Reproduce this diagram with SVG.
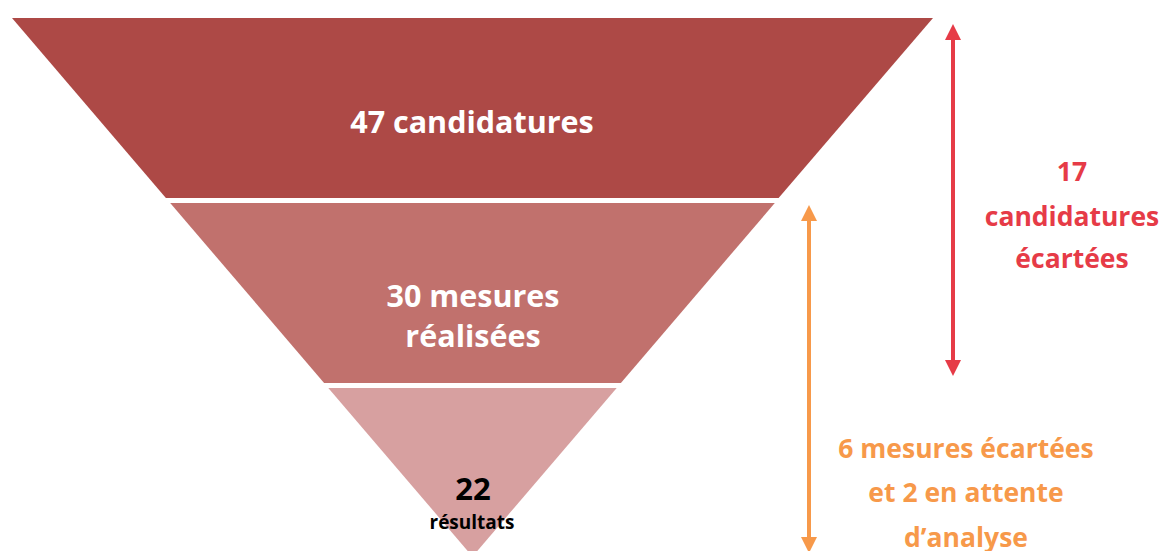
<svg xmlns="http://www.w3.org/2000/svg" width="1161" height="551" viewBox="0 0 1161 551">
<style>
text{font-family:"Open Sans","Liberation Sans",sans-serif;font-weight:bold;text-anchor:middle}
.w{fill:#ffffff;font-size:30.5px}
.r{fill:#E63B47;font-size:26.5px}
.o{fill:#F7994A;font-size:26.5px}
</style>
<defs>
<marker id="ar" markerWidth="4" markerHeight="4" refX="2" refY="2" orient="auto-start-reverse" markerUnits="strokeWidth"><path d="M0,0 L4,2 L0,4 Z" fill="#E63B47"/></marker>
<marker id="ao" markerWidth="4" markerHeight="4" refX="2" refY="2" orient="auto-start-reverse" markerUnits="strokeWidth"><path d="M0,0 L4,2 L0,4 Z" fill="#F7994A"/></marker>
</defs>
<rect width="1161" height="551" fill="#ffffff"/>
<g id="stage1">
<polygon points="12,18 933,18 778.6,198 165.9,198" fill="#AD4946"/>
<text class="w" x="472" y="133">47 candidatures</text>
</g>
<g id="stage2">
<polygon points="170.2,203 774.8,203 620.9,383 324.1,383" fill="#C1716D"/>
<text class="w" x="473" y="307">30 mesures</text>
<text class="w" x="473" y="347">réalisées</text>
</g>
<g id="stage3">
<polygon points="328.3,388 616.7,388 472.5,556.6" fill="#D7A0A0"/>
<text x="473" y="500" style="fill:#000;font-size:31px">22</text>
<text x="472" y="529" style="fill:#000;font-size:19px">résultats</text>
</g>
<g id="connectors">
<line x1="953" y1="32" x2="953" y2="368" stroke="#E63B47" stroke-width="4" marker-start="url(#ar)" marker-end="url(#ar)"/>
<line x1="809" y1="213" x2="809" y2="545" stroke="#F7994A" stroke-width="4" marker-start="url(#ao)" marker-end="url(#ao)"/>
</g>
<g id="label-red">
<text class="r" x="1072" y="181">17</text>
<text class="r" x="1072" y="226">candidatures</text>
<text class="r" x="1072" y="268">écartées</text>
</g>
<g id="label-orange">
<text class="o" x="966" y="458">6 mesures écartées</text>
<text class="o" x="966" y="502">et 2 en attente</text>
<text class="o" x="966" y="547">d’analyse</text>
</g>
</svg>
